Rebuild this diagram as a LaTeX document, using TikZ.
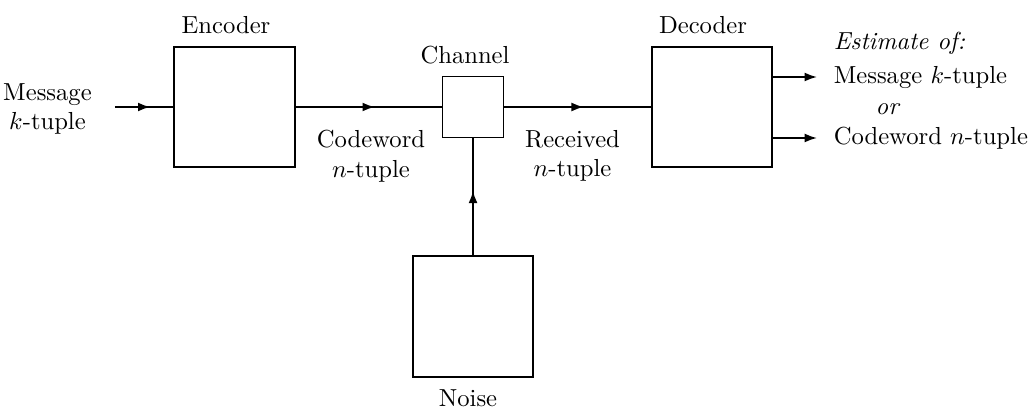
\documentclass[tikz,border=0pt]{standalone}
\usetikzlibrary{arrows.meta,decorations.markings,positioning}
\tikzset{
  blk/.style={draw,minimum size=1.72cm,inner sep=0pt},
  midarrow/.style={decoration={markings,
      mark=at position 0.5 with {\arrow[xshift=2.5pt]{>}}},postaction={decorate}},
}
\begin{document}
\begin{tikzpicture}[scale=0.428,line width=0.7pt,>={Latex[length=5pt,width=3.6pt]}]
\useasboundingbox (0,0) rectangle (34.333,13.8);
% boxes
\node[blk] (enc) at (7.817,10.233) {};
\node[blk,minimum size=0.87cm] (chan) at (15.767,10.233) {};
\node[blk] (dec) at (23.733,10.233) {};
\node[blk] (noise) at (15.767,3.25) {};
% box labels
\node (enclbl) at (7.533,12.967) {Encoder};
\node (chanlbl) at (15.5,11.967) {Channel};
\node (declbl) at (23.433,12.967) {Decoder};
\node (noiselbl) at (15.6,0.533) {Noise};
% signal labels
\node[align=center] (msg) at (1.583,10.167) {Message\\$k$-tuple};
\node[align=center] (cw) at (12.367,8.6) {Codeword\\$n$-tuple};
\node[align=center] (rx) at (19.083,8.6) {Received\\$n$-tuple};
% decoder outputs
\coordinate (in) at (3.833,10.233);
\coordinate (outA) at (27.233,11.233);
\coordinate (outB) at (27.233,9.2);
\node[right=0.11cm of outA] (msgout) {Message $k$-tuple};
\node[right=0.11cm of outB] (cwout) {Codeword $n$-tuple};
\node[anchor=west] (est) at (msgout.west |- 0,12.35) {\textit{Estimate of:}};
\node (or) at (29.6,10.167) {\textit{or}};
% connectors
\draw[midarrow] (in) -- (enc);
\draw[midarrow] (enc) -- (chan);
\draw[midarrow] (chan) -- (dec);
\draw[midarrow] (noise) -- (chan);
\draw[->] (dec.east |- outA) -- (outA);
\draw[->] (dec.east |- outB) -- (outB);
\end{tikzpicture}
\end{document}
